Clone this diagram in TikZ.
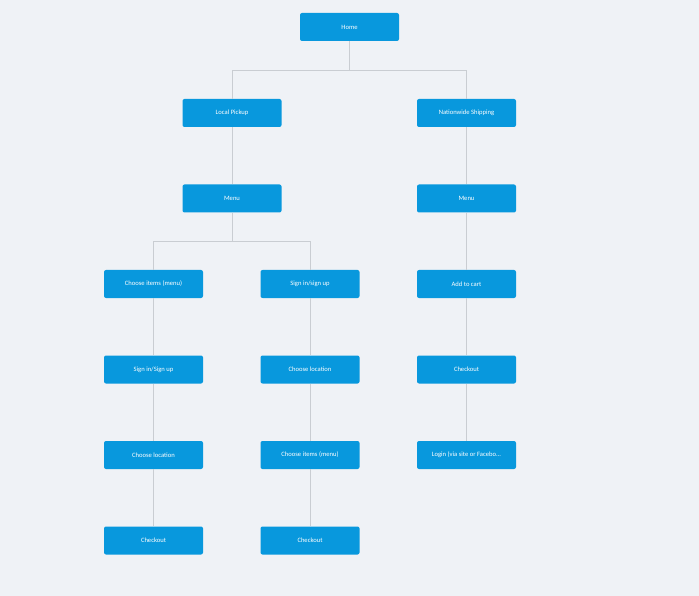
\documentclass[tikz,border=0pt]{standalone}
\usepackage{fontspec}
\setmainfont{Carlito}
\definecolor{bg}{HTML}{EFF2F6}
\definecolor{boxc}{HTML}{0898DD}
\definecolor{linec}{HTML}{C9CDD2}
\begin{document}
\begin{tikzpicture}[x=1pt,y=-1pt,
  box/.style={draw=none,fill=boxc,rounded corners=2pt,minimum width=99pt,minimum height=28pt,text=white,font=\fontsize{6.6}{8}\selectfont,inner sep=1pt},
  conn/.style={draw=linec,line width=0.8pt}]
\fill[bg] (0,0) rectangle (699,596);
\useasboundingbox (0,0) rectangle (699,596);
\node[box] (home) at (349.5,27) {Home};
\node[box] (lp) at (232,113) {Local Pickup};
\node[box] (ns) at (466.5,113) {Nationwide Shipping};
\node[box] (m1) at (232,198.5) {Menu};
\node[box] (m2) at (466.5,198.5) {Menu};
\node[box] (a1) at (153.5,284) {Choose items (menu)};
\node[box] (b1) at (310,284) {Sign in/sign up};
\node[box] (c1) at (466.5,284) {Add to cart};
\node[box] (a2) at (153.5,369.5) {Sign in/Sign up};
\node[box] (b2) at (310,369.5) {Choose location};
\node[box] (c2) at (466.5,369.5) {Checkout};
\node[box] (a3) at (153.5,455) {Choose location};
\node[box] (b3) at (310,455) {Choose items (menu)};
\node[box] (c3) at (466.5,455) {Login (via site or Facebo...};
\node[box] (a4) at (153.5,540.5) {Checkout};
\node[box] (b4) at (310,540.5) {Checkout};
\draw[conn] (home.south) -- ++(0,29) -| (lp.north);
\draw[conn] (home.south) -- ++(0,29) -| (ns.north);
\draw[conn] (lp) -- (m1);
\draw[conn] (ns) -- (m2);
\draw[conn] (m1.south) -- ++(0,29) -| (a1.north);
\draw[conn] (m1.south) -- ++(0,29) -| (b1.north);
\draw[conn] (m2) -- (c1);
\draw[conn] (a1) -- (a2); \draw[conn] (a2) -- (a3); \draw[conn] (a3) -- (a4);
\draw[conn] (b1) -- (b2); \draw[conn] (b2) -- (b3); \draw[conn] (b3) -- (b4);
\draw[conn] (c1) -- (c2); \draw[conn] (c2) -- (c3);
\end{tikzpicture}
\end{document}
